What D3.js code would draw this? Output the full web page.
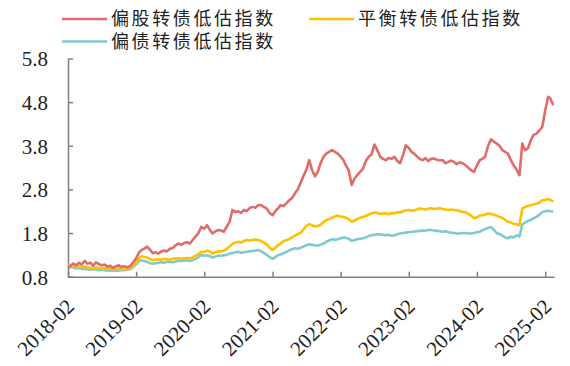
<!DOCTYPE html>
<html><head><meta charset="utf-8">
<script src="https://cdn.jsdelivr.net/npm/d3@7"></script>
<style>
html,body{margin:0;padding:0;background:#fff;}
svg{display:block;}
</style>
</head><body>
<svg id="chart" width="570" height="366"></svg>
<script>
const seriesNames = ["偏股转债低估指数", "平衡转债低估指数", "偏债转债低估指数"];
const seriesColors = ["#E06B6B", "#FFC000", "#7FC9CF"];
const yTicks = [0.8, 1.8, 2.8, 3.8, 4.8, 5.8];
const xTickLabels = ["2018-02","2019-02","2020-02","2021-02","2022-02","2023-02","2024-02","2025-02"];

const dates = [
"2018-02-01","2018-02-16","2018-03-01","2018-03-16","2018-04-01","2018-04-16","2018-05-01","2018-05-16","2018-06-01","2018-06-16","2018-07-01","2018-07-16","2018-08-01","2018-08-16","2018-09-01","2018-09-16","2018-10-01","2018-10-16","2018-11-01","2018-11-16","2018-12-01","2018-12-16",
"2019-01-01","2019-01-16","2019-02-01","2019-02-16","2019-03-01","2019-03-16","2019-04-01","2019-04-16","2019-05-01","2019-05-16","2019-06-01","2019-06-16","2019-07-01","2019-07-16","2019-08-01","2019-08-16","2019-09-01","2019-09-16","2019-10-01","2019-10-16","2019-11-01","2019-11-16","2019-12-01","2019-12-16",
"2020-01-01","2020-01-16","2020-02-01","2020-02-16","2020-03-01","2020-03-16","2020-04-01","2020-04-16","2020-05-01","2020-05-16","2020-06-01","2020-06-16","2020-07-01","2020-07-16","2020-08-01","2020-08-16","2020-09-01","2020-09-16","2020-10-01","2020-10-16","2020-11-01","2020-11-16","2020-12-01","2020-12-16",
"2021-01-01","2021-01-16","2021-02-01","2021-02-16","2021-03-01","2021-03-16","2021-04-01","2021-04-16","2021-05-01","2021-05-16","2021-06-01","2021-06-16","2021-07-01","2021-07-16","2021-08-01","2021-08-16","2021-09-01","2021-09-16","2021-10-01","2021-10-16","2021-11-01","2021-11-16","2021-12-01","2021-12-16",
"2022-01-01","2022-01-16","2022-02-01","2022-02-16","2022-03-01","2022-03-16","2022-04-01","2022-04-16","2022-05-01","2022-05-16","2022-06-01","2022-06-16","2022-07-01","2022-07-16","2022-08-01","2022-08-16","2022-09-01","2022-09-16","2022-10-01","2022-10-16","2022-11-01","2022-11-16","2022-12-01","2022-12-16",
"2023-01-01","2023-01-16","2023-02-01","2023-02-16","2023-03-01","2023-03-16","2023-04-01","2023-04-16","2023-05-01","2023-05-16","2023-06-01","2023-06-16","2023-07-01","2023-07-16","2023-08-01","2023-08-16","2023-09-01","2023-09-16","2023-10-01","2023-10-16","2023-11-01","2023-11-16","2023-12-01","2023-12-16",
"2024-01-01","2024-01-16","2024-02-01","2024-02-16","2024-03-01","2024-03-16","2024-04-01","2024-04-16","2024-05-01","2024-05-16","2024-06-01","2024-06-16","2024-07-01","2024-07-16","2024-08-01","2024-08-16","2024-09-01","2024-09-16","2024-10-01","2024-10-16","2024-11-01","2024-11-16","2024-12-01","2024-12-16",
"2025-01-01","2025-01-16","2025-02-01","2025-02-16","2025-03-01","2025-03-16"
];

const equityValues = [
1.00,1.06,1.10,1.06,1.12,1.08,1.16,1.10,1.12,1.05,1.13,1.09,1.06,1.08,1.03,1.05,1.00,1.04,1.06,1.02,1.04,1.01,
1.05,1.13,1.22,1.35,1.41,1.44,1.49,1.42,1.34,1.36,1.33,1.38,1.40,1.38,1.44,1.46,1.52,1.56,1.53,1.57,1.59,1.56,1.64,1.72,
1.80,1.94,1.90,1.98,1.88,1.79,1.84,1.87,1.86,1.83,1.95,2.06,2.33,2.28,2.30,2.26,2.33,2.30,2.37,2.40,2.38,2.44,2.44,2.40,
2.36,2.26,2.21,2.30,2.36,2.44,2.42,2.48,2.55,2.60,2.71,2.80,2.95,3.10,3.25,3.47,3.24,3.10,3.20,3.40,3.55,3.62,3.66,3.70,
3.66,3.62,3.55,3.47,3.35,3.24,2.90,3.05,3.13,3.20,3.28,3.45,3.55,3.60,3.83,3.70,3.55,3.50,3.47,3.52,3.50,3.55,3.45,3.40,
3.58,3.81,3.75,3.66,3.62,3.56,3.50,3.47,3.52,3.45,3.50,3.51,3.48,3.47,3.47,3.40,3.43,3.46,3.43,3.38,3.42,3.40,3.36,3.30,
3.24,3.20,3.35,3.47,3.50,3.55,3.80,3.95,3.90,3.85,3.80,3.70,3.66,3.62,3.47,3.35,3.25,3.13,3.85,3.70,3.75,3.93,4.05,4.08,
4.15,4.23,4.61,4.92,4.88,4.73
];

const balancedValues = [
1.05,1.04,1.03,1.02,1.04,1.02,1.03,1.01,1.00,0.99,1.01,1.00,0.99,1.00,0.98,0.99,0.97,0.98,0.99,0.98,0.97,0.98,
0.99,1.05,1.12,1.22,1.27,1.25,1.24,1.20,1.18,1.19,1.20,1.19,1.21,1.20,1.19,1.21,1.22,1.22,1.21,1.22,1.23,1.22,1.24,1.28,
1.32,1.37,1.36,1.40,1.38,1.33,1.36,1.38,1.38,1.40,1.44,1.50,1.55,1.58,1.60,1.58,1.62,1.64,1.63,1.64,1.65,1.64,1.62,1.58,
1.54,1.47,1.41,1.46,1.52,1.56,1.62,1.64,1.66,1.70,1.74,1.78,1.80,1.88,1.96,2.00,1.98,1.95,1.96,1.99,2.05,2.10,2.12,2.15,
2.18,2.20,2.18,2.17,2.15,2.12,2.06,2.08,2.12,2.15,2.17,2.19,2.22,2.25,2.27,2.26,2.24,2.25,2.25,2.23,2.26,2.25,2.28,2.27,
2.30,2.32,2.33,2.31,2.32,2.34,2.36,2.35,2.34,2.36,2.37,2.35,2.36,2.37,2.35,2.34,2.33,2.34,2.33,2.32,2.30,2.28,2.28,2.24,
2.20,2.14,2.16,2.20,2.21,2.22,2.25,2.24,2.22,2.20,2.17,2.15,2.10,2.06,2.04,2.01,2.00,1.98,2.36,2.40,2.42,2.44,2.46,2.47,
2.50,2.55,2.56,2.58,2.56,2.52
];

const bondValues = [
1.03,1.02,1.01,0.99,1.00,0.98,0.98,0.97,0.96,0.97,0.96,0.95,0.96,0.95,0.94,0.95,0.93,0.94,0.94,0.95,0.95,0.96,
0.97,1.02,1.08,1.15,1.18,1.16,1.14,1.11,1.10,1.11,1.12,1.13,1.12,1.14,1.14,1.13,1.15,1.16,1.16,1.17,1.17,1.16,1.18,1.21,
1.25,1.30,1.28,1.29,1.27,1.24,1.26,1.28,1.28,1.29,1.30,1.33,1.34,1.36,1.37,1.35,1.36,1.37,1.38,1.39,1.40,1.41,1.38,1.35,
1.30,1.25,1.21,1.25,1.29,1.31,1.34,1.37,1.40,1.43,1.45,1.44,1.46,1.49,1.52,1.54,1.53,1.52,1.51,1.53,1.56,1.60,1.63,1.66,
1.65,1.66,1.68,1.70,1.69,1.67,1.62,1.64,1.66,1.67,1.68,1.70,1.73,1.75,1.76,1.77,1.77,1.76,1.75,1.76,1.74,1.75,1.77,1.79,
1.80,1.81,1.82,1.83,1.83,1.84,1.85,1.86,1.85,1.87,1.87,1.86,1.85,1.84,1.83,1.84,1.82,1.81,1.80,1.79,1.79,1.80,1.80,1.79,
1.79,1.80,1.82,1.83,1.86,1.89,1.92,1.94,1.88,1.80,1.78,1.74,1.70,1.68,1.72,1.70,1.75,1.72,2.00,2.04,2.08,2.10,2.14,2.17,
2.22,2.28,2.30,2.31,2.30,2.29
];

const seriesValues = [equityValues, balancedValues, bondValues];

const svg = d3.select("#chart");
const parse = d3.timeParse("%Y-%m-%d");
const parseMonth = d3.timeParse("%Y-%m");

const x = d3.scaleTime()
  .domain([parse("2018-02-01"), parse("2025-03-20")])
  .range([68, 554]);
const y = d3.scaleLinear().domain([0.8, 5.8]).range([276.7, 58.5]);

const axisColor = "#7f7f7f";
const serif = "'Liberation Serif','Times New Roman',serif";

// x axis
const gx = svg.append("g").attr("transform", "translate(0,276.7)")
  .call(d3.axisBottom(x)
    .tickValues(xTickLabels.map(parseMonth))
    .tickSizeInner(-5).tickSizeOuter(0)
    .tickFormat(d3.timeFormat("%Y-%m")));
gx.select(".domain").attr("stroke", axisColor).attr("stroke-width", 1.5);
gx.selectAll(".tick line").attr("stroke", axisColor).attr("stroke-width", 1.5);
gx.selectAll(".tick text")
  .attr("font-family", serif).attr("font-size", 21).attr("fill", "#222")
  .attr("text-anchor", "end")
  .attr("transform", "translate(7,31) rotate(-45)")
  .attr("x", 0).attr("y", 0).attr("dy", 0);

// y axis
const gy = svg.append("g").attr("transform", "translate(68,0)")
  .call(d3.axisLeft(y).tickValues(yTicks).tickSizeInner(-5).tickSizeOuter(0)
    .tickFormat(d3.format(".1f")));
gy.select(".domain").attr("stroke", axisColor).attr("stroke-width", 1.5);
gy.selectAll(".tick line").attr("stroke", axisColor).attr("stroke-width", 1.5);
gy.selectAll(".tick text")
  .attr("font-family", serif).attr("font-size", 21).attr("fill", "#222")
  .attr("x", -20).attr("dy", "0.35em");

// lines
const line = d3.line()
  .x((d, i) => x(parse(dates[i])))
  .y(d => y(d));

[2, 1, 0].forEach(k => {
  svg.append("path")
    .datum(seriesValues[k])
    .attr("fill", "none")
    .attr("stroke", seriesColors[k])
    .attr("stroke-width", 2.6)
    .attr("stroke-linejoin", "round")
    .attr("d", line);
});

// legend
const legendPos = [[62, 19], [309, 19], [62, 41.5]];
seriesNames.forEach((name, k) => {
  const [lx, ly] = legendPos[k];
  svg.append("line").attr("x1", lx).attr("x2", lx + 45)
    .attr("y1", ly).attr("y2", ly)
    .attr("stroke", seriesColors[k]).attr("stroke-width", 2.6);
  svg.append("text").attr("x", lx + 49).attr("y", ly)
    .attr("dy", "0.36em")
    .attr("font-family", "'Liberation Serif','Noto Sans CJK SC', serif")
    .attr("font-size", 18).attr("letter-spacing", 2.6)
    .attr("fill", "#222")
    .text(name);
});
</script>
</body></html>
